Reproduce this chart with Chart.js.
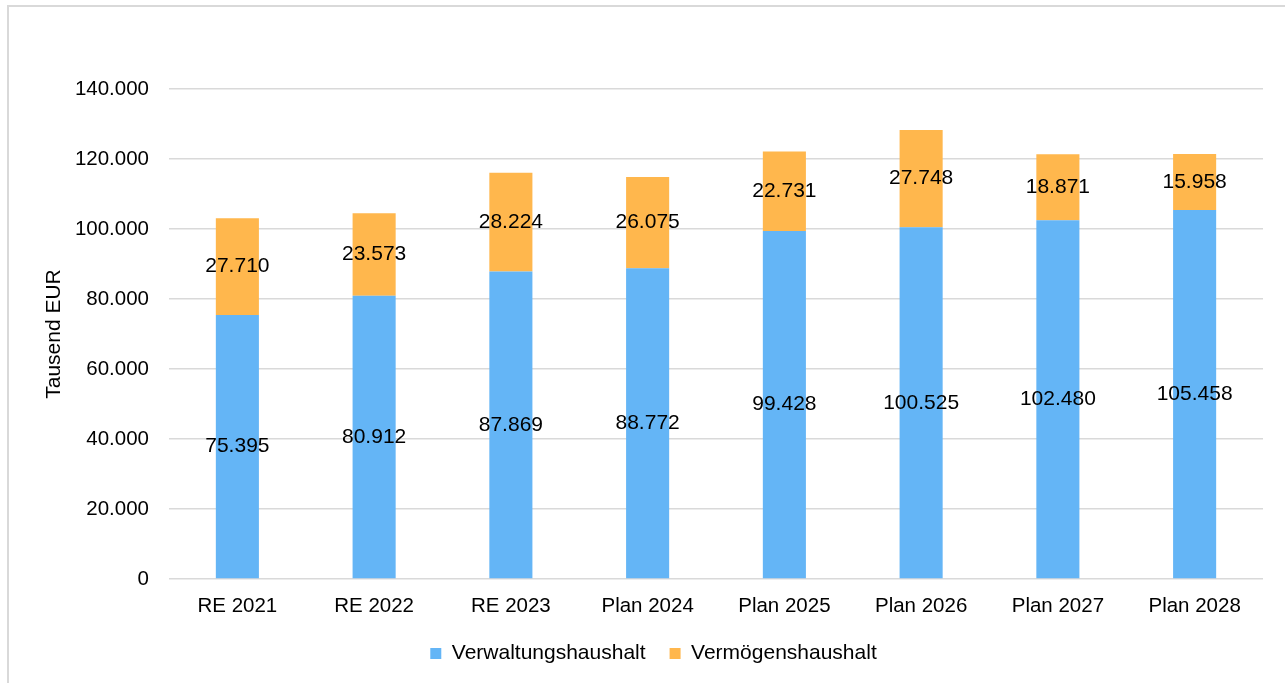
<!DOCTYPE html>
<html lang="de">
<head>
<meta charset="utf-8">
<title>Haushalt</title>
<script src="https://cdn.jsdelivr.net/npm/chart.js@4.4.1/dist/chart.umd.min.js"></script>
<style>
    html, body { margin: 0; padding: 0; background: #fff; overflow: hidden; }
    .chart-frame {
        position: absolute; left: 7px; top: 5px; right: -5px; bottom: -5px;
        border-left: 2px solid #d9d9d9; border-top: 2px solid #d9d9d9;
        pointer-events: none;
    }
    .chart-wrap { position: relative; width: 1285px; height: 674px; }
</style>
</head>
<body>
<div class="chart-wrap">
    <canvas id="budget-chart"></canvas>
</div>
<div class="chart-frame"></div>
<script>
const years = ['RE 2021', 'RE 2022', 'RE 2023', 'Plan 2024', 'Plan 2025', 'Plan 2026', 'Plan 2027', 'Plan 2028'];
const verwaltung = [75395, 80912, 87869, 88772, 99428, 100525, 102480, 105458];
const vermoegen = [27710, 23573, 28224, 26075, 22731, 27748, 18871, 15958];
const yTicks = [0, 20000, 40000, 60000, 80000, 100000, 120000, 140000];

const FONT = '"Liberation Sans", Arial, sans-serif';

// 75395 -> "75.395"
function fmt(v){
    return String(v).replace(/\B(?=(\d{3})+(?!\d))/g, '.');
}

// value labels in the middle of every stacked segment
const segmentLabels = {
    id: 'segmentLabels',
    afterDatasetsDraw(chart){
        const ctx = chart.ctx;
        ctx.save();
        ctx.font = '21px ' + FONT;
        ctx.fillStyle = '#000';
        ctx.textAlign = 'center';
        ctx.textBaseline = 'middle';
        chart.data.datasets.forEach((ds, i) => {
            chart.getDatasetMeta(i).data.forEach((bar, j) => {
                ctx.fillText(fmt(ds.data[j]), bar.x, (bar.y + bar.base) / 2);
            });
        });
        ctx.restore();
    }
};

const ctx = document.getElementById('budget-chart').getContext('2d');
new Chart(ctx, {
    type: 'bar',
    data: {
        labels: years,
        datasets: [{
            label: 'Verwaltungshaushalt',
            data: verwaltung,
            backgroundColor: '#64b5f6',
            barPercentage: 0.315,
            categoryPercentage: 1
        }, {
            label: 'Vermögenshaushalt',
            data: vermoegen,
            backgroundColor: '#ffb74d',
            barPercentage: 0.315,
            categoryPercentage: 1
        }]
    },
    options: {
        responsive: true,
        maintainAspectRatio: false,
        animation: false,
        layout: { padding: { left: 44, top: 89, right: 22, bottom: 0 } },
        plugins: {
            tooltip: { enabled: false },
            legend: {
                position: 'bottom',
                labels: {
                    boxWidth: 11,
                    boxHeight: 11,
                    padding: 24,
                    color: '#000',
                    font: { family: FONT, size: 21 }
                }
            }
        },
        scales: {
            x: {
                stacked: true,
                grid: { display: false },
                border: { display: false },
                ticks: { color: '#000', padding: 7, font: { family: FONT, size: 20.5 } },
                afterFit(scale){ scale.height = 40; }
            },
            y: {
                stacked: true,
                min: 0,
                max: 140000,
                afterBuildTicks(scale){ scale.ticks = yTicks.map(v => ({ value: v })); },
                grid: { color: '#d9d9d9', lineWidth: 1.5, drawTicks: false },
                border: { display: false },
                ticks: {
                    color: '#000',
                    padding: 20,
                    font: { family: FONT, size: 20.5 },
                    callback: v => fmt(v)
                },
                title: {
                    display: true,
                    text: 'Tausend EUR',
                    color: '#000',
                    padding: { top: 0, bottom: 0 },
                    font: { family: FONT, size: 21, lineHeight: 1 }
                },
                afterFit(scale){ scale.width = 125; }
            }
        }
    },
    plugins: [segmentLabels]
});
</script>
</body>
</html>
